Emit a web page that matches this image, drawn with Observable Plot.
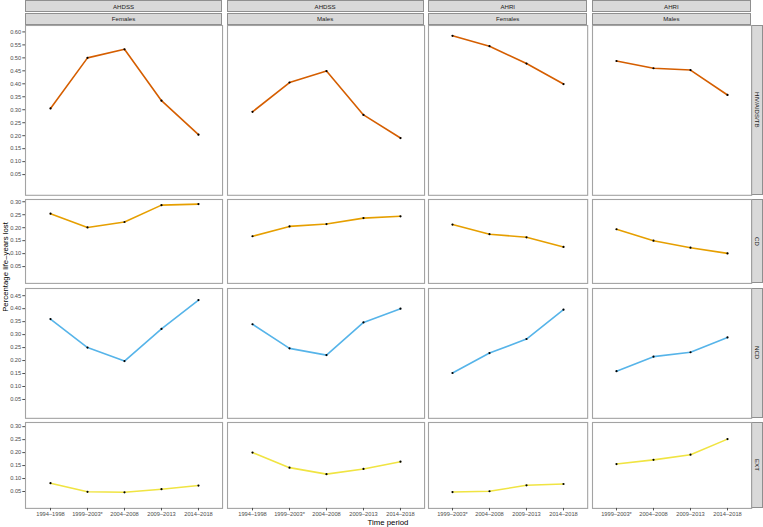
<!DOCTYPE html>
<html><head><meta charset="utf-8">
<script src="https://cdn.jsdelivr.net/npm/d3@7"></script>
<script src="https://cdn.jsdelivr.net/npm/@observablehq/plot@0.6"></script>
<style>
body{margin:0;background:#fff;}
#chart{position:relative;width:763px;height:527px;font-family:"Liberation Sans",Arial,sans-serif;overflow:hidden;background:#fff}
.strip{position:absolute;box-sizing:border-box;background:#d9d9d9;border:1px solid #8f8f8f;color:#1a1a1a;font-size:6.1px;display:flex;align-items:center;justify-content:center;white-space:nowrap}
.vstrip{writing-mode:vertical-rl}
.panel{position:absolute}
.panel svg{overflow:visible;background:transparent;display:block}
.title{position:absolute;color:#000;font-size:7.8px;line-height:1;white-space:nowrap}
</style></head><body><div id="chart"></div>
<script>
// ---- data ----
const sites = ["AHDSS", "AHDSS", "AHRI", "AHRI"];
const sexes = ["Females", "Males", "Females", "Males"];
const periodsAHDSS = ["1994–1998", "1999–2003*", "2004–2008", "2009–2013", "2014–2018"];
const periodsAHRI = ["1999–2003*", "2004–2008", "2009–2013", "2014–2018"];
const causes = ["HIV/AIDS/TB", "CD", "NCD", "EXT"];
const causeColors = ["#D55E00", "#E69F00", "#56B4E9", "#F0E442"];
// values per panel column: AHDSS Females, AHDSS Males, AHRI Females, AHRI Males
const hivValues = [
  [0.305, 0.500, 0.533, 0.335, 0.204],
  [0.292, 0.405, 0.449, 0.280, 0.191],
  [0.585, 0.545, 0.478, 0.399],
  [0.488, 0.460, 0.453, 0.357]
];
const cdValues = [
  [0.254, 0.201, 0.222, 0.287, 0.291],
  [0.167, 0.205, 0.214, 0.237, 0.244],
  [0.212, 0.175, 0.163, 0.126],
  [0.194, 0.150, 0.123, 0.101]
];
const ncdValues = [
  [0.360, 0.250, 0.198, 0.322, 0.433],
  [0.340, 0.247, 0.221, 0.347, 0.400],
  [0.152, 0.229, 0.283, 0.396],
  [0.159, 0.215, 0.232, 0.289]
];
const extValues = [
  [0.082, 0.049, 0.047, 0.059, 0.073],
  [0.200, 0.142, 0.117, 0.137, 0.165],
  [0.048, 0.051, 0.074, 0.079],
  [0.156, 0.172, 0.192, 0.252]
];
const yLimits = [[0, 0.595], [0, 0.294], [0, 0.455], [0, 0.301]];
const yTicksHiv = [0.05, 0.10, 0.15, 0.20, 0.25, 0.30, 0.35, 0.40, 0.45, 0.50, 0.55, 0.60];
const yTicksCd = [0.05, 0.10, 0.15, 0.20, 0.25, 0.30];
const yTicksNcd = [0.05, 0.10, 0.15, 0.20, 0.25, 0.30, 0.35, 0.40, 0.45];
const yTicksExt = [0.05, 0.10, 0.15, 0.20, 0.25, 0.30];
const yTitle = "Percentage life–years lost";
const xTitle = "Time period";

// ---- layout ----
const allValues = [hivValues, cdValues, ncdValues, extValues];
const allTicks = [yTicksHiv, yTicksCd, yTicksNcd, yTicksExt];
const colPeriods = [periodsAHDSS, periodsAHDSS, periodsAHRI, periodsAHRI];
const W = 763, H = 527;
const leftAxis = 25, rightStrip = 12, gap = 4.5, topStrips = 25, panelBottom = 508;
const expand = d => { const s = (d[1] - d[0]) * 0.05; return [d[0] - s, d[1] + s]; };
const yDomains = yLimits.map(expand);
const colUnits = colPeriods.map(p => p.length - 1 + 1.2);
const pxX = (W - leftAxis - rightStrip - 3 * gap) / d3.sum(colUnits);
const rowUnits = yDomains.map(d => d[1] - d[0]);
const pxY = (panelBottom - topStrips - 3 * gap) / d3.sum(rowUnits);
const colX = [], colW = [], rowY = [], rowH = [];
{ let x = leftAxis; colUnits.forEach(u => { colX.push(x); colW.push(u * pxX); x += u * pxX + gap; }); }
{ let y = topStrips; rowUnits.forEach(u => { rowY.push(y); rowH.push(u * pxY); y += u * pxY + gap; }); }

const chart = document.getElementById("chart");
function addDiv(cls, text, x, y, w, h) {
  const d = document.createElement("div");
  d.className = cls; d.textContent = text;
  Object.assign(d.style, {left: x + "px", top: y + "px", width: w + "px", height: h + "px"});
  chart.appendChild(d);
  return d;
}

// top strips
for (let c = 0; c < 4; c++) {
  addDiv("strip", sites[c], colX[c], 0, colW[c], 12.3);
  addDiv("strip", sexes[c], colX[c], 12.6, colW[c], 12.2);
}
// right strips
for (let r = 0; r < 4; r++) {
  addDiv("strip vstrip", causes[r], W - rightStrip, rowY[r], rightStrip, rowH[r]);
}

// panels
for (let r = 0; r < 4; r++) {
  for (let c = 0; c < 4; c++) {
    const isLeft = c === 0, isBottom = r === 3;
    const mL = isLeft ? leftAxis : 0, mB = isBottom ? 9 : 0;
    const periods = colPeriods[c];
    const data = periods.map((p, i) => ({period: p, value: allValues[r][c][i]}));
    const plot = Plot.plot({
      width: colW[c] + mL,
      height: rowH[r] + mB,
      marginLeft: mL, marginRight: 0, marginTop: 0, marginBottom: mB,
      style: {fontFamily: '"Liberation Sans", Arial, sans-serif', fontSize: "5.7px", background: "transparent", overflow: "visible"},
      x: {type: "point", domain: periods, padding: 0.6, axis: null},
      y: {domain: yDomains[r], axis: null},
      marks: [
        Plot.frame({stroke: "#a3a3a3", strokeWidth: 1.1}),
        isLeft ? Plot.axisY({ticks: allTicks[r], tickFormat: d => d.toFixed(2), tickSize: 2.7, tickPadding: 1.6, color: "#4d4d4d", label: null}) : null,
        isBottom ? Plot.axisX({tickSize: 2.5, tickPadding: 0.6, color: "#4d4d4d", label: null}) : null,
        Plot.line(data, {x: "period", y: "value", stroke: causeColors[r], strokeWidth: 1.6}),
        Plot.dot(data, {x: "period", y: "value", r: 1.1, fill: "black", stroke: "none"})
      ]
    });
    const holder = document.createElement("div");
    holder.className = "panel";
    holder.style.left = (colX[c] - mL) + "px";
    holder.style.top = rowY[r] + "px";
    holder.appendChild(plot);
    chart.appendChild(holder);
  }
}

// axis titles
const xt = addDiv("title", xTitle, 0, 518.6, 1, 8);
xt.style.width = "auto"; xt.style.height = "auto";
xt.style.left = ((leftAxis + W - rightStrip) / 2) + "px";
xt.style.transform = "translateX(-50%)";
const yt = addDiv("title", yTitle, 0, 0, 1, 8);
yt.style.width = "auto"; yt.style.height = "auto";
yt.style.left = "5.5px";
yt.style.top = ((topStrips + panelBottom) / 2) + "px";
yt.style.transform = "translate(-50%,-50%) rotate(-90deg)";
</script></body></html>
